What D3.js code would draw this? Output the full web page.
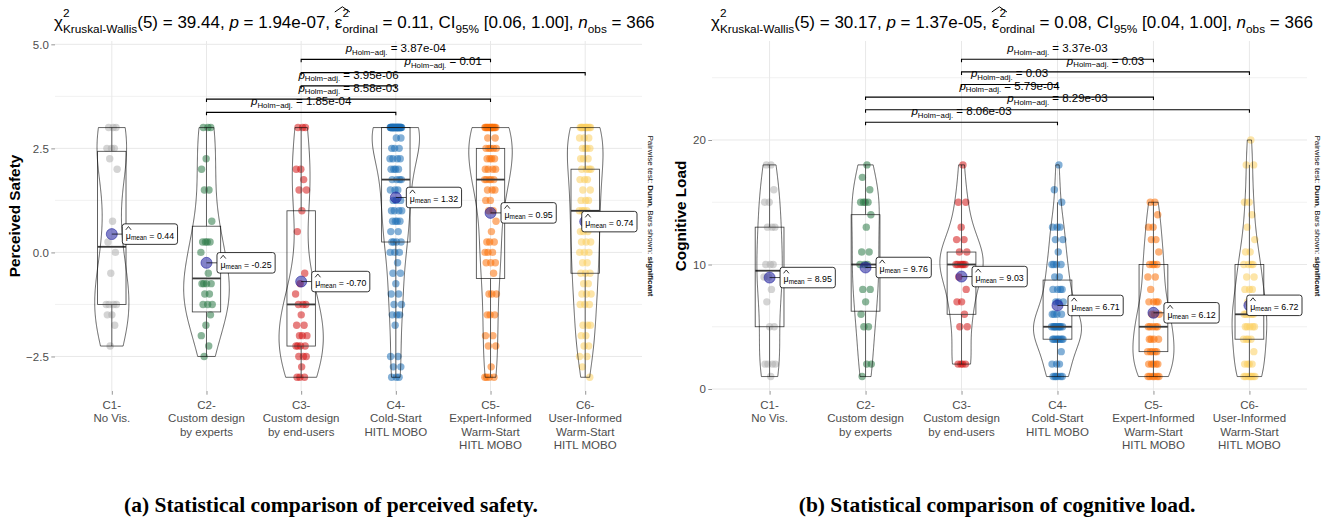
<!DOCTYPE html>
<html>
<head>
<meta charset="utf-8">
<script src="https://cdn.jsdelivr.net/npm/d3@7"></script>
<style>
  body { margin: 0; background: #fff; }
  svg { display: block; }
  text { white-space: pre; }
</style>
</head>
<body>
<svg id="chart" width="1329" height="523"></svg>
<script>
// ---- data ----
const categories = ["C1", "C2", "C3", "C4", "C5", "C6"];
const categoryLabels = [
  ["C1-", "No Vis."],
  ["C2-", "Custom design", "by experts"],
  ["C3-", "Custom design", "by end-users"],
  ["C4-", "Cold-Start", "HITL MOBO"],
  ["C5-", "Expert-Informed", "Warm-Start", "HITL MOBO"],
  ["C6-", "User-Informed", "Warm-Start", "HITL MOBO"]
];
const groupColors = ["#b1b1b1", "#2a7846", "#d41616", "#1e70b6", "#fc710a", "#fcd061"];

// perceived safety, [value, count]
const safetyC1 = [[3,3],[2.5,3],[2.25,1],[2,1],[0.75,1],[0.25,1],[0,1],[-0.5,1],[-1.25,4],[-1.5,2],[-1.75,1],[-2.25,1]];
const safetyC2 = [[3,3],[2.25,1],[2,1],[1.5,2],[0.75,1],[0.25,4],[0,1],[-0.5,1],[-0.75,4],[-1,2],[-1.25,3],[-1.5,1],[-1.75,1],[-2,1],[-2.25,1],[-2.5,1]];
const safetyC3 = [[3,3],[2,2],[1.75,1],[1.5,2],[1,1],[0.5,1],[-0.5,1],[-0.75,1],[-1,1],[-1.25,3],[-1.5,1],[-1.75,2],[-2,3],[-2.25,4],[-2.5,3],[-2.75,1],[-3,3]];
const safetyC4 = [[3,28],[2.75,2],[2.5,3],[2.25,4],[2,4],[1.75,4],[1.5,3],[1.25,3],[1,4],[0.75,4],[0.5,2],[0.25,4],[0,3],[-0.25,1],[-0.5,2],[-0.75,1],[-1,2],[-1.25,2],[-1.5,3],[-1.75,1],[-2.5,2],[-2.75,2],[-3,3]];
const safetyC5 = [[3,14],[2.75,2],[2.5,5],[2.25,4],[2,4],[1.75,5],[1.5,3],[1.25,2],[1,2],[0.75,1],[0.5,1],[0.25,3],[0,3],[-0.25,3],[-0.5,1],[-1,3],[-1.5,3],[-2,2],[-2.25,2],[-2.75,1],[-3,4]];
const safetyC6 = [[3,10],[2.75,3],[2.5,4],[2.25,3],[2,4],[1.75,3],[1.5,2],[1.25,3],[1,4],[0.75,2],[0.5,3],[0.25,3],[0,3],[-0.25,2],[-0.5,3],[-0.75,2],[-1,3],[-1.25,3],[-1.75,3],[-2,2],[-2.25,2],[-2.5,2],[-2.75,1],[-3,1]];
const safetyQ1 = [-1.25, -1.43, -2.25, 0.25, -0.625, -0.5];
const safetyMedian = [0.135, -0.625, -1.25, 1.75, 1.75, 1.0];
const safetyQ3 = [2.43, 0.63, 1.0, 3.0, 2.5, 2.0];
const safetyLo = [-2.25, -2.5, -3, -3, -3, -3];
const safetyHi = [3, 3, 3, 3, 3, 3];
const safetyMeans = [0.44, -0.25, -0.70, 1.32, 0.95, 0.74];
const safetyPairs = [["C2","C4"], ["C2","C5"], ["C3","C4"], ["C3","C6"], ["C3","C5"]];
const safetyP = ["1.85e-04", "8.58e-03", "3.95e-06", "0.01", "3.87e-04"];
const safetyTicks = [-2.5, 0, 2.5, 5];
const safetyMinor = [-1.25, 1.25, 3.75];
const safetyStats = { chi: "39.44", p: "1.94e-07", eps: "0.11", ci: "[0.06, 1.00]", n: "366" };

// cognitive load, [value, count]
const loadC1 = [[18,2],[16,1],[15,2],[13,3],[10,3],[9,2],[8,1],[7,1],[5,2],[2,4],[1,1]];
const loadC2 = [[18,1],[17,1],[16,1],[15,4],[14,1],[13,1],[11,2],[10,3],[8,2],[7,1],[6,1],[5,2],[2,2],[1,1]];
const loadC3 = [[18,1],[15,2],[13,1],[12,2],[11,2],[10,6],[9,1],[8,1],[7,2],[6,1],[5,2],[2,4]];
const loadC4 = [[18,1],[16,1],[15,1],[13,3],[12,2],[11,1],[10,4],[9,2],[8,4],[7,3],[6,4],[5,10],[4,8],[3,1],[2,3],[1,6]];
const loadC5 = [[15,2],[14,1],[13,2],[12,2],[11,1],[10,4],[9,2],[8,1],[7,4],[6,3],[5,5],[4,4],[3,5],[2,5],[1,6]];
const loadC6 = [[20,1],[18,2],[15,2],[14,1],[13,1],[12,1],[11,2],[10,4],[9,2],[8,3],[7,3],[6,5],[5,5],[4,4],[3,1],[2,4],[1,7]];
const loadQ1 = [5, 6.25, 6, 4, 3, 4];
const loadMedian = [9.5, 10, 10, 5, 5, 6];
const loadQ3 = [13, 14, 11, 8.75, 10, 10];
const loadLo = [1, 1, 2, 1, 1, 1];
const loadHi = [18, 18, 18, 15, 15, 18];
const loadMeans = [8.95, 9.76, 9.03, 6.71, 6.12, 6.72];
const loadPairs = [["C2","C4"], ["C2","C6"], ["C2","C5"], ["C3","C4"], ["C3","C6"], ["C3","C5"]];
const loadP = ["8.06e-03", "8.29e-03", "5.79e-04", "0.03", "0.03", "3.37e-03"];
const loadTicks = [0, 10, 20];
const loadMinor = [5, 15, 25];
const loadStats = { chi: "30.17", p: "1.37e-05", eps: "0.08", ci: "[0.04, 1.00]", n: "366" };

// ---- drawing ----
const FONT = "'Liberation Sans', Arial, Helvetica, sans-serif";
const svg = d3.select("#chart").attr("font-family", FONT);

function expand(pairs) {
  const out = [];
  pairs.forEach(([v, c]) => { for (let k = 0; k < c; k++) out.push(v); });
  return out;
}

// lays out pieces of text one after another, returns total width
function addRich(g, parts) {
  let cx = 0;
  parts.forEach(p => {
    const t = g.append("text").attr("x", cx).attr("y", p.dy || 0)
      .attr("font-size", p.size).attr("fill", "#000")
      .attr("xml:space", "preserve").text(p.t);
    if (p.italic) t.attr("font-style", "italic");
    if (p.bold) t.attr("font-weight", "bold");
    const w = t.node().getComputedTextLength();
    if (p.hat) {
      const hw = w * p.hat.scale;
      g.append("path")
        .attr("d", `M${cx},${p.hat.y + p.hat.h}L${cx + hw / 2},${p.hat.y}L${cx + hw},${p.hat.y + p.hat.h}`)
        .attr("fill", "none").attr("stroke", "#000").attr("stroke-width", p.hat.sw);
    }
    if (!p.stack) cx += w;
  });
  return cx;
}

function subtitleParts(s) {
  const B = 17, S = 11.8;
  return [
    { t: "χ", size: B },
    { t: "2", size: S, dy: -11.5, stack: true },
    { t: "Kruskal-Wallis", size: S, dy: 5 },
    { t: `(5) = ${s.chi}, `, size: B },
    { t: "p", size: B, italic: true },
    { t: ` = ${s.p}, `, size: B },
    { t: "ε", size: B, hat: { y: -21.5, h: 5.2, scale: 2.0, sw: 1 } },
    { t: "2", size: S, dy: -11.5, stack: true },
    { t: "ordinal", size: S, dy: 5 },
    { t: ` = ${s.eps}, CI`, size: B },
    { t: "95%", size: S, dy: 5 },
    { t: ` ${s.ci}, `, size: B },
    { t: "n", size: B, italic: true },
    { t: "obs", size: S, dy: 5 },
    { t: ` = ${s.n}`, size: B }
  ];
}

function kde(vals) {
  const n = vals.length;
  const sd = d3.deviation(vals);
  const iqr = d3.quantile(vals, 0.75) - d3.quantile(vals, 0.25);
  let lo = Math.min(sd, iqr / 1.34);
  if (!lo) lo = sd || 1;
  const bw = 0.9 * lo * Math.pow(n, -0.2);
  const [mn, mx] = d3.extent(vals);
  return d3.range(256).map(i => {
    const yv = mn + (mx - mn) * i / 255;
    const d = d3.sum(vals, v => Math.exp(-0.5 * ((yv - v) / bw) ** 2)) / (n * bw * Math.sqrt(2 * Math.PI));
    return [yv, d];
  });
}

function drawPanel(p) {
  const g = svg.append("g");
  const x = d3.scalePoint().domain(categories).range([p.x0, p.x1]).padding(0.6);
  const y = d3.scaleLinear().domain(p.domain).range([p.yBot, p.yTop]);
  const step = x.step();

  // grid
  g.append("g").selectAll("line").data(p.minor).join("line")
    .attr("x1", p.x0).attr("x2", p.x1).attr("y1", d => y(d)).attr("y2", d => y(d))
    .attr("stroke", "#eeeeee").attr("stroke-width", 0.8);
  g.append("g").selectAll("line").data(p.ticks).join("line")
    .attr("x1", p.x0).attr("x2", p.x1).attr("y1", d => y(d)).attr("y2", d => y(d))
    .attr("stroke", "#e8e8e8").attr("stroke-width", 1);
  g.append("g").selectAll("line").data(categories).join("line")
    .attr("x1", d => x(d)).attr("x2", d => x(d)).attr("y1", p.yTop).attr("y2", p.yBot)
    .attr("stroke", "#e8e8e8").attr("stroke-width", 1);

  // axes
  const yAxis = g.append("g").attr("transform", `translate(${p.x0},0)`)
    .call(d3.axisLeft(y).tickValues(p.ticks).tickFormat(p.fmt).tickSize(3.7).tickPadding(2.5));
  yAxis.select(".domain").remove();
  yAxis.selectAll("text").attr("font-size", 11.5).attr("fill", "#4d4d4d").attr("font-family", FONT);
  yAxis.selectAll("line").attr("stroke", "#4d4d4d").attr("stroke-width", 0.6);

  const xAxis = g.append("g").attr("transform", `translate(0,${p.yBot})`)
    .call(d3.axisBottom(x).tickSize(3.7).tickFormat(""));
  xAxis.select(".domain").remove();
  xAxis.selectAll("line").attr("stroke", "#4d4d4d").attr("stroke-width", 0.6);

  const xl = g.append("g").selectAll("text").data(categories).join("text")
    .attr("text-anchor", "middle").attr("font-size", 11.5).attr("fill", "#4d4d4d");
  xl.selectAll("tspan").data((d, i) => categoryLabels[i]).join("tspan")
    .attr("x", function () { return x(d3.select(this.parentNode).datum()); })
    .attr("y", (d, j) => 408.5 + j * 13.5)
    .text(d => d);

  // axis title
  g.append("text").attr("transform", `translate(${p.titleX},${(p.yTop + p.yBot) / 2}) rotate(-90)`)
    .attr("text-anchor", "middle").attr("font-size", 15.3).attr("font-weight", "bold")
    .text(p.yTitle);

  const groups = p.groups.map(expand);

  // jittered points
  const jw = 6;
  groups.forEach((vals, gi) => {
    const cx = x(categories[gi]);
    g.append("g").selectAll("circle").data(vals).join("circle")
      .attr("cx", (d, i) => cx + ((((i + 1) * 0.6180339887) % 1) - 0.5) * 2 * jw)
      .attr("cy", d => y(d))
      .attr("r", 3.7)
      .attr("fill", groupColors[gi]).attr("fill-opacity", 0.55);
  });

  // boxes
  const bw = step * 0.3;
  categories.forEach((c, i) => {
    const cx = x(c);
    const bg = g.append("g").attr("stroke", "#3a3a3a").attr("fill", "none");
    bg.append("line").attr("x1", cx).attr("x2", cx).attr("y1", y(p.q3[i])).attr("y2", y(p.hi[i])).attr("stroke-width", 0.8);
    bg.append("line").attr("x1", cx).attr("x2", cx).attr("y1", y(p.q1[i])).attr("y2", y(p.lo[i])).attr("stroke-width", 0.8);
    bg.append("rect").attr("x", cx - bw / 2).attr("width", bw)
      .attr("y", y(p.q3[i])).attr("height", y(p.q1[i]) - y(p.q3[i])).attr("stroke-width", 0.8);
    bg.append("line").attr("x1", cx - bw / 2).attr("x2", cx + bw / 2)
      .attr("y1", y(p.med[i])).attr("y2", y(p.med[i])).attr("stroke-width", 1.8);
  });

  // violins (area scaled to the largest density in the panel)
  const dens = groups.map(kde);
  const maxD = d3.max(dens, d => d3.max(d, e => e[1]));
  const half = step * 0.25;
  dens.forEach((d, gi) => {
    const cx = x(categories[gi]);
    const area = d3.area()
      .y(e => y(e[0]))
      .x0(e => cx - e[1] / maxD * half)
      .x1(e => cx + e[1] / maxD * half);
    g.append("path").attr("d", area(d)).attr("fill", "none")
      .attr("stroke", "#000").attr("stroke-width", 0.6);
  });

  // means with labels
  p.means.forEach((m, i) => {
    const px = x(categories[i]), py = y(m);
    const lg = g.append("g");
    const tg = lg.append("g");
    const tw = addRich(tg, [
      { t: "μ", size: 8.8, hat: { y: -12.3, h: 3.3, scale: 1.05, sw: 0.8 } },
      { t: "mean", size: 6.4, dy: 1.2 },
      { t: ` = ${m.toFixed(2)}`, size: 8.8 }
    ]);
    const w = tw + 7, h = 20.5;
    const bx = Math.min(px + 10.5, p.x1 - w - 5);
    const by = py - h / 2;
    lg.insert("line", ":first-child").attr("x1", px).attr("x2", bx).attr("y1", py).attr("y2", py)
      .attr("stroke", "#000").attr("stroke-width", 0.7);
    lg.insert("rect", "g").attr("x", bx).attr("y", by).attr("width", w).attr("height", h)
      .attr("rx", 2.5).attr("fill", "#fff").attr("stroke", "#000").attr("stroke-width", 0.8);
    tg.attr("transform", `translate(${bx + 3.5},${by + 15})`);
    g.insert("circle", () => lg.node()).attr("cx", px).attr("cy", py).attr("r", 5.5)
      .attr("fill", "#1c1c9c").attr("fill-opacity", 0.55)
      .attr("stroke", "#1c1c9c").attr("stroke-opacity", 0.7).attr("stroke-width", 0.8);
  });

  // significance brackets
  p.pairs.forEach((pr, i) => {
    const ly = y(p.bStart + i * p.bStep);
    const xa = x(pr[0]), xb = x(pr[1]);
    g.append("path").attr("d", `M${xa},${ly + 3}V${ly}H${xb}V${ly + 3}`)
      .attr("fill", "none").attr("stroke", "#000").attr("stroke-width", 1.1);
    const tg = g.append("g");
    const tw = addRich(tg, [
      { t: "p", size: 11.5, italic: true },
      { t: "Holm\u2212adj.", size: 7.8, dy: 2.5 },
      { t: ` = ${p.pLabels[i]}`, size: 11.5 }
    ]);
    tg.attr("transform", `translate(${(xa + xb) / 2 - tw / 2},${ly - 7.3})`);
  });

  // subtitle
  const st = g.append("g").attr("transform", `translate(${p.x0 - 1},28.3)`);
  addRich(st, subtitleParts(p.stats));

  // side note
  const side = g.append("text")
    .attr("transform", `translate(${p.sideX},${(p.yTop + p.yBot) / 2}) rotate(90)`)
    .attr("text-anchor", "middle").attr("font-size", 8).attr("fill", "#111");
  side.append("tspan").text("Pairwise test: ");
  side.append("tspan").attr("font-weight", "bold").text("Dunn");
  side.append("tspan").text(", Bars shown: ");
  side.append("tspan").attr("font-weight", "bold").text("significant");

  // caption
  g.append("text").attr("x", p.capX).attr("y", 511.5).attr("text-anchor", "middle")
    .attr("font-family", "'Liberation Serif', 'Times New Roman', serif")
    .attr("font-weight", "bold").attr("font-size", 21.5).text(p.caption);
}

drawPanel({
  x0: 55, x1: 642, yTop: 41, yBot: 391, domain: [-3.33, 5.08],
  ticks: safetyTicks, minor: safetyMinor, fmt: d3.format(".1f"),
  groups: [safetyC1, safetyC2, safetyC3, safetyC4, safetyC5, safetyC6],
  q1: safetyQ1, med: safetyMedian, q3: safetyQ3, lo: safetyLo, hi: safetyHi,
  means: safetyMeans, pairs: safetyPairs, pLabels: safetyP, bStart: 3.365, bStep: 0.3185,
  stats: safetyStats, yTitle: "Perceived Safety", titleX: 19.5, sideX: 648, capX: 331,
  caption: "(a) Statistical comparison of perceived safety."
});

drawPanel({
  x0: 712, x1: 1307, yTop: 41, yBot: 391, domain: [-0.16, 27.95],
  ticks: loadTicks, minor: loadMinor, fmt: d3.format("d"),
  groups: [loadC1, loadC2, loadC3, loadC4, loadC5, loadC6],
  q1: loadQ1, med: loadMedian, q3: loadQ3, lo: loadLo, hi: loadHi,
  means: loadMeans, pairs: loadPairs, pLabels: loadP, bStart: 21.42, bStep: 1.012,
  stats: loadStats, yTitle: "Cognitive Load", titleX: 686, sideX: 1315, capX: 997,
  caption: "(b) Statistical comparison of cognitive load."
});
</script>
</body>
</html>
